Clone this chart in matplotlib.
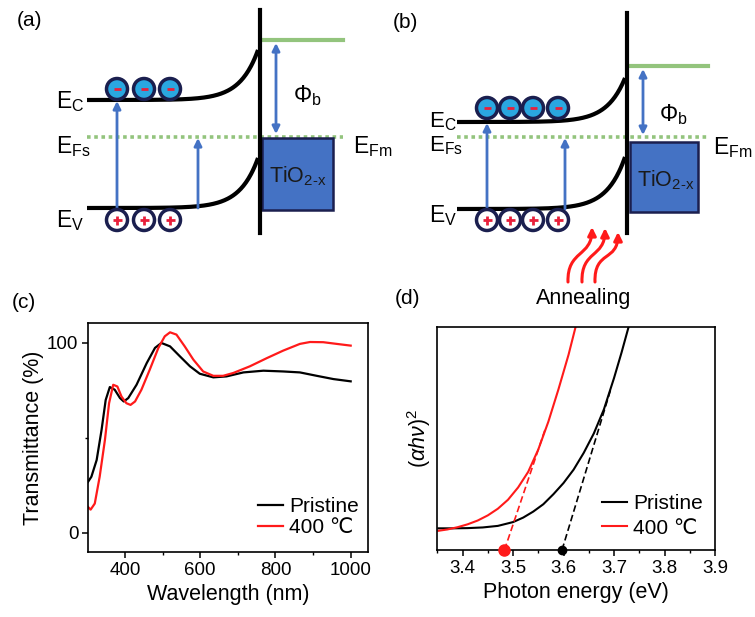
import numpy as np
import matplotlib
matplotlib.use("Agg")
import matplotlib.pyplot as plt
from matplotlib.patches import Circle, Rectangle, FancyArrowPatch
from matplotlib.path import Path
from matplotlib.ticker import MultipleLocator

plt.rcParams['font.family'] = ['Liberation Sans', 'DejaVu Sans']
plt.rcParams['mathtext.fontset'] = 'custom'
plt.rcParams['mathtext.rm'] = 'Liberation Sans'
plt.rcParams['mathtext.it'] = 'Liberation Sans:italic'

# ---------------- data: panel (c) ----------------
wl_pristine = [302, 311, 325, 338, 349, 360, 373, 387, 397, 409, 431, 458, 480, 497, 520,
               546, 573, 599, 635, 670, 715, 768, 821, 865, 910, 954, 1000]
T_pristine = [26.9, 29.6, 38.4, 54.2, 70.0, 76.8, 75.4, 71.0, 69.2, 71.0, 78.0, 89.4, 97.4, 100.0, 98.2,
              93.0, 87.7, 83.8, 81.9, 82.4, 84.5, 85.4, 85.0, 84.5, 82.7, 81.0, 79.8]
wl_400 = [302, 309, 320, 333, 347, 358, 369, 380, 391, 404, 415, 427, 444, 466, 489, 506, 520,
          537, 559, 582, 608, 635, 661, 688, 732, 777, 821, 865, 892, 927, 963, 1000]
T_400 = [13.7, 12.3, 15.5, 29.6, 49.0, 68.3, 78.0, 77.1, 71.8, 68.3, 67.4, 69.2, 75.4, 85.9, 97.4, 103.5, 105.6,
         104.4, 98.2, 91.2, 85.0, 82.7, 82.7, 84.2, 87.7, 92.0, 96.0, 99.5, 100.5, 100.4, 99.5, 98.6]

# ---------------- data: panel (d) ----------------
E_pristine = [3.352, 3.38, 3.41, 3.44, 3.47, 3.50, 3.52, 3.54, 3.56, 3.58, 3.60, 3.62, 3.64,
              3.66, 3.68, 3.70, 3.715, 3.729]
A_pristine = [0.097, 0.097, 0.098, 0.101, 0.108, 0.125, 0.145, 0.172, 0.205, 0.25, 0.30, 0.36, 0.435,
              0.522, 0.63, 0.77, 0.885, 1.0]
E_400 = [3.352, 3.37, 3.39, 3.41, 3.43, 3.45, 3.47, 3.49, 3.51, 3.53, 3.55, 3.57, 3.59, 3.61, 3.624]
A_400 = [0.086, 0.092, 0.102, 0.115, 0.132, 0.155, 0.185, 0.225, 0.28, 0.35, 0.45, 0.575, 0.72, 0.875, 1.0]
tangent_pristine_E = [3.597, 3.693]
tangent_pristine_A = [0.0, 0.716]
tangent_400_E = [3.483, 3.565]
tangent_400_A = [0.0, 0.55]
gap_pristine = 3.597
gap_400 = 3.483

labels = ['Pristine', '400 \u2103']
colors = ['black', '#FF1A1A']

W, H = 755, 617
fig = plt.figure(figsize=(W / 100, H / 100), dpi=100)

# overlay for schematics (pixel coordinates)
ov = fig.add_axes([0, 0, 1, 1])
ov.set_xlim(0, W)
ov.set_ylim(H, 0)
ov.axis('off')

BLUE = '#4472C4'
GREEN = '#93C47D'
NAVY = '#1B1F4F'
RED = '#E8203A'


def band(x0, x1, yflat, amp, L=18):
    x = np.linspace(x0, x1, 200)
    y = yflat - amp * np.exp((x - x1) / L)
    ov.plot(x, y, color='black', lw=3, solid_capstyle='butt', zorder=3)


def electron(x, y):
    ov.add_patch(Circle((x, y), 10.5, fc='#2AA7E0', ec=NAVY, lw=2.5, zorder=5))
    ov.plot([x - 3.5, x + 3.5], [y, y], color=RED, lw=2, zorder=6, solid_capstyle='butt')


def hole(x, y):
    ov.add_patch(Circle((x, y), 10.5, fc='white', ec=NAVY, lw=2.5, zorder=5))
    ov.plot([x - 4.5, x + 4.5], [y, y], color=RED, lw=2, zorder=6, solid_capstyle='butt')
    ov.plot([x, x], [y - 4.5, y + 4.5], color=RED, lw=2, zorder=6, solid_capstyle='butt')


def arrow(x, y0, y1, style='-|>'):
    ov.add_patch(FancyArrowPatch((x, y0), (x, y1), arrowstyle=style, color=BLUE,
                                 lw=2, mutation_scale=11, shrinkA=0, shrinkB=0, zorder=4))


def schematic(xl, xi, xr, y_top, yC, ampC, yV, ampV, yF, box, phi_y0, phi_x,
              e_xs, e_y, h_y, arr2_x, vtop):
    ov.plot([xl, xr], [yF, yF], color=GREEN, lw=2.6, linestyle=(0, (1, 1)), zorder=2)
    band(xl, xi - 2, yC, ampC)
    band(xl, xi - 2, yV, ampV)
    ov.plot([xi, xi], [vtop, 233], color='black', lw=3, zorder=4)
    ov.plot([xi + 2, xr], [y_top, y_top], color=GREEN, lw=3, zorder=2)
    bx, by, bw, bh = box
    ov.add_patch(Rectangle((bx, by), bw, bh, fc=BLUE, ec=NAVY, lw=1.8, zorder=3))
    ov.text(bx + 7, by + 44, r'TiO$_\mathrm{2\text{-}x}$', fontsize=15.5, color='#1a1a1a',
            ha='left', va='baseline', zorder=6)
    arrow(phi_x, y_top + 3, phi_y0, '<|-|>')
    for x in e_xs:
        electron(x, e_y)
        hole(x, h_y)
    arrow(e_xs[0], yV, yC + 1)
    arrow(arr2_x, yV, yF + 1)


# panel (a)
schematic(87, 260, 343, 40, 100, 50, 208, 50, 137, (262, 138, 71, 72), 134, 276,
          [117, 144, 170], 89, 220, 198, 10)
ov.text(56, 108, r'E$_\mathrm{C}$', fontsize=16.5, va='baseline')
ov.text(56, 153, r'E$_\mathrm{Fs}$', fontsize=16.5, va='baseline')
ov.text(56, 227, r'E$_\mathrm{V}$', fontsize=16.5, va='baseline')
ov.text(353, 153, r'E$_\mathrm{Fm}$', fontsize=16.5, va='baseline')
ov.text(293, 102, r'$\Phi_\mathrm{b}$', fontsize=16.5, va='baseline')
ov.text(29, 20, '(a)', fontsize=15, ha='center', va='center')

# panel (b)
schematic(457, 627, 708, 66, 122, 44, 209, 52, 137, (630, 142, 68, 70), 135, 643,
          [487, 510, 533, 558], 108, 220, 565, 13)
ov.text(429, 127, r'E$_\mathrm{C}$', fontsize=16, va='baseline')
ov.text(429, 151, r'E$_\mathrm{Fs}$', fontsize=16, va='baseline')
ov.text(429, 222, r'E$_\mathrm{V}$', fontsize=16.5, va='baseline')
ov.text(713, 154, r'E$_\mathrm{Fm}$', fontsize=16.5, va='baseline')
ov.text(659, 121, r'$\Phi_\mathrm{b}$', fontsize=16.5, va='baseline')
ov.text(405, 22, '(b)', fontsize=15, ha='center', va='center')

# annealing wavy arrows
for (bx, by), (tx, ty) in zip([(568, 282), (582, 282), (595, 282)],
                              [(592, 227), (605, 228), (618, 232)]):
    p = Path([(bx, by), (bx - 1, by - 32), (tx, ty + 30), (tx, ty)],
             [Path.MOVETO, Path.CURVE4, Path.CURVE4, Path.CURVE4])
    ov.add_patch(FancyArrowPatch(path=p, arrowstyle='-|>', color='#FF1A1A', lw=2.2,
                                 mutation_scale=12, zorder=4))
ov.text(584, 304, 'Annealing', fontsize=15.5, ha='center', va='baseline')

ov.text(24, 303, '(c)', fontsize=15, ha='center', va='center')
ov.text(407, 299, '(d)', fontsize=15, ha='center', va='center')

# ---------------- panel (c) ----------------
axc = fig.add_axes([88 / W, 1 - 552 / H, (368 - 88) / W, (552 - 323) / H])
axc.plot(wl_pristine, T_pristine, color=colors[0], lw=1.6, label=labels[0])
axc.plot(wl_400, T_400, color=colors[1], lw=1.6, label=labels[1])
axc.set_xlim(302, 1046)
axc.set_ylim(-10, 110.5)
axc.set_xticks([400, 600, 800, 1000])
axc.xaxis.set_minor_locator(MultipleLocator(100))
axc.set_yticks([0, 100])
axc.set_yticks([50], minor=True)
axc.set_xlabel('Wavelength (nm)', fontsize=15.5, labelpad=4)
axc.set_ylabel('Transmittance (%)', fontsize=15.5, labelpad=2)
axc.legend(loc='lower right', frameon=False, fontsize=15, handlelength=1.2,
           handletextpad=0.3, labelspacing=0.1, borderaxespad=0.3,
           bbox_to_anchor=(1.02, 0.0))

# ---------------- panel (d) ----------------
axd = fig.add_axes([437.3 / W, 1 - 550 / H, (715 - 437.3) / W, (550 - 326.7) / H])
axd.plot(E_pristine, A_pristine, color=colors[0], lw=1.5, label=labels[0])
axd.plot(E_400, A_400, color=colors[1], lw=1.5, label=labels[1])
axd.plot(tangent_pristine_E, tangent_pristine_A, color=colors[0], lw=1.2, ls=(0, (4, 2)))
axd.plot(tangent_400_E, tangent_400_A, color=colors[1], lw=1.2, ls=(0, (4, 2)))
axd.plot([gap_pristine], [0], 'o', color=colors[0], ms=6, clip_on=False, zorder=5)
axd.plot([gap_400], [0], 'o', color=colors[1], ms=8, clip_on=False, zorder=5)
axd.set_xlim(3.35, 3.9)
axd.set_ylim(0, 1)
axd.set_xticks([3.4, 3.5, 3.6, 3.7, 3.8, 3.9])
axd.xaxis.set_minor_locator(MultipleLocator(0.05))
axd.set_yticks([])
axd.set_xlabel('Photon energy (eV)', fontsize=15.5, labelpad=4)
axd.set_ylabel(r'$(\alpha h\nu)^2$', fontsize=15.5, labelpad=3)
axd.legend(loc='lower right', frameon=False, fontsize=15, handlelength=1.2,
           handletextpad=0.3, labelspacing=0.25, borderaxespad=0.2,
           bbox_to_anchor=(1.0, 0.0))

for ax in (axc, axd):
    for s in ax.spines.values():
        s.set_linewidth(1.2)
    ax.tick_params(axis='both', which='major', direction='out', length=4, width=1.1,
                   labelsize=13.5, pad=3)
    ax.tick_params(axis='both', which='minor', direction='out', length=2.5, width=1.0)

fig.savefig('out.png', dpi=100)
